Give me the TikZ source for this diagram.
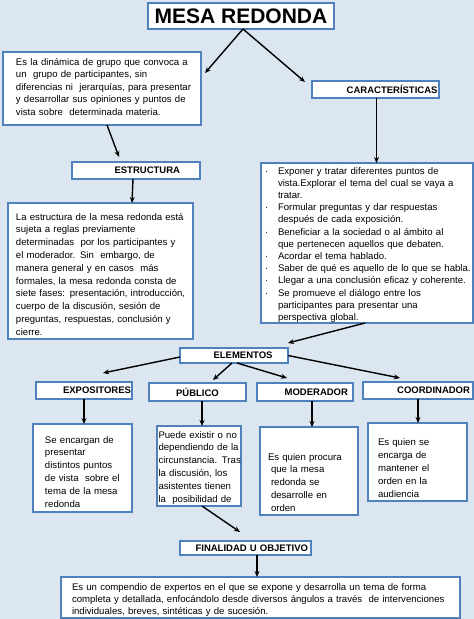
\documentclass[tikz,border=0pt]{standalone}
\usepackage{fontspec}
\setmainfont{Liberation Sans}
\usetikzlibrary{arrows.meta}
\definecolor{bgc}{HTML}{DCE6F1}
\definecolor{bc}{HTML}{4F81BD}
\newcommand\cbul{\makebox[13pt][l]{·}}
\newcommand\cind{\hspace*{13pt}}
\newcommand\tst[1]{\leftskip=#1\rightskip=0pt plus 1fil minus 40pt\hyphenpenalty=10000\exhyphenpenalty=10000\relax}
\begin{document}
\begin{tikzpicture}[x=1pt,y=-1pt,
 box/.style={draw=bc, fill=white, line width=1.3pt, inner ysep=0pt, outer sep=0pt},
 hdr/.style={box, font=\fontsize{9.5}{11}\selectfont\bfseries},
 txt/.style={box, inner xsep=0pt, align=left},
 arr/.style={line width=1.4pt, -{Stealth[length=6pt,width=5pt]}},
]
\useasboundingbox (0,0) rectangle (474,619);
\fill[bgc] (0,0) rectangle (474,619);

\node[box, font=\fontsize{21}{24}\selectfont\bfseries, minimum width=186pt, minimum height=26pt, inner xsep=0pt] (title) at (241,16) {MESA REDONDA};

\node[txt, font=\fontsize{9.6}{12.6}\selectfont, text width=198pt, text height=13pt, text depth=60pt] (def) at (102,88.5)
 {\tst{13pt}Es la dinámica de grupo que convoca a\\ un~ grupo de participantes, sin\\ diferencias ni~ jerarquías, para presentar\\ y desarrollar sus opiniones y puntos de\\ vista sobre~ determinada materia.\par};

\node[hdr, inner xsep=1.5pt, text width=124pt, align=right, minimum height=17pt] (car) at (375.5,89.5) {CARACTERÍSTICAS};

\node[hdr, inner xsep=20pt, text width=88pt, align=right, minimum height=17pt] (est) at (136,170.5) {ESTRUCTURA};

\node[txt, font=\fontsize{9.6}{12.8}\selectfont, text width=185pt, text height=17pt, text depth=119pt] (estbox) at (100.5,271)
 {\tst{8pt}La estructura de la mesa redonda está\\ sujeta a reglas previamente\\ determinadas~ por los participantes y\\ el moderador. Sin~ embargo, de\\ manera general y en casos~ más\\ formales, la mesa redonda consta de\\ siete fases: presentación, introducción,\\ cuerpo de la discusión, sesión de\\ preguntas, respuestas, conclusión y\\ cierre.\par};

\node[txt, font=\fontsize{9.6}{12.2}\selectfont, text width=212pt, text height=11pt, text depth=149pt] (carbox) at (367,243)
 {\tst{4pt}\cbul Exponer y tratar diferentes puntos de\\ \cind vista.Explorar el tema del cual se vaya a\\ \cind tratar.\\
  \cbul Formular preguntas y dar respuestas\\ \cind después de cada exposición.\\
  \cbul Beneficiar a la sociedad o al ámbito al\\ \cind que pertenecen aquellos que debaten.\\
  \cbul Acordar el tema hablado.\\
  \cbul Saber de qué es aquello de lo que se habla.\\
  \cbul Llegar a una conclusión eficaz y coherente.\\
  \cbul Se promueve el diálogo entre los\\ \cind participantes para presentar una\\ \cind perspectiva global.\par};

\node[hdr, inner xsep=15.5pt, text width=77pt, align=right, minimum height=15pt] (elem) at (234,355.5) {ELEMENTOS};

\node[hdr, inner xsep=1pt, text width=94pt, align=right, minimum height=17pt] (expo) at (84,390.5) {EXPOSITORES};
\node[hdr, inner xsep=1pt, text width=95pt, align=center, minimum height=18pt] (pub) at (197.5,392) {PÚBLICO};
\node[hdr, inner xsep=5pt, text width=86pt, align=right, minimum height=18pt] (mod) at (305,392) {MODERADOR};
\node[hdr, inner xsep=3pt, text width=104pt, align=right, minimum height=17pt] (coord) at (418,390.5) {COORDINADOR};

\node[txt, font=\fontsize{9.6}{12.8}\selectfont, text width=99pt, text height=19pt, text depth=69pt] (expobox) at (82.5,468)
 {\tst{12pt}Se encargan de\\ presentar\\ distintos puntos\\ de vista~ sobre el\\ tema de la mesa\\ redonda\par};
\node[txt, font=\fontsize{9.6}{12.8}\selectfont, text width=84pt, text height=12pt, text depth=68pt] (pubbox) at (199,466)
 {\tst{1.5pt}Puede existir o no\\ dependiendo de la\\ circunstancia. Tras\\ la discusión, los\\ asistentes tienen\\ la~ posibilidad de\par};
\node[txt, font=\fontsize{9.6}{12.75}\selectfont, text width=98pt, text height=33pt, text depth=55pt] (modbox) at (309,471)
 {\tst{8pt}Es quien procura\\ \hspace*{3pt}que la mesa\\ \hspace*{3pt}redonda se\\ \hspace*{3pt}desarrolle en\\ \hspace*{3pt}orden\par};
\node[txt, font=\fontsize{9.6}{13}\selectfont, text width=99pt, text height=22pt, text depth=56pt] (coordbox) at (417.5,462)
 {\tst{10pt}Es quien se\\ encarga de\\ mantener el\\ orden en la\\ audiencia\par};

\node[hdr, inner xsep=3pt, text width=125pt, align=right, minimum height=14pt] (fin) at (245.5,548) {FINALIDAD U OBJETIVO};
\node[txt, font=\fontsize{9.6}{12}\selectfont, text width=399pt, text height=13pt, text depth=28pt] (finbox) at (260.5,597.5)
 {\tst{11pt}Es un compendio de expertos en el que se expone y desarrolla un tema de forma\\ completa y detallada, enfocándolo desde diversos ángulos a través~ de intervenciones\\ individuales, breves, sintéticas y de sucesión.\par};

% connectors
\draw[arr] ([xshift=2pt]title.south) -- ([xshift=4pt,yshift=-21pt]def.north east);
\draw[arr] ([xshift=2pt]title.south) -- ([xshift=-7pt,yshift=7.5pt]car.west);
\coordinate (c1) at ([xshift=1pt]car.south);
\draw[arr] (c1) -- (c1 |- carbox.north);
\draw[arr] ([xshift=5pt]def.south) -- ([xshift=-17pt,yshift=5pt]est.north);
\draw[arr] ([xshift=-3pt]est.south) -- ([xshift=31.5pt]estbox.north);
\draw[arr] ([xshift=-2pt]carbox.south) -- ([yshift=5pt]elem.north east);
\draw[arr] ([yshift=-1.5pt]elem.west) -- ([xshift=19pt,yshift=9pt]expo.north);
\draw[arr] ([xshift=-2pt]elem.south) -- ([xshift=15.5pt,yshift=3pt]pub.north);
\draw[arr] ([xshift=3pt]elem.south) -- ([xshift=-18pt,yshift=5pt]mod.north);
\draw[arr] (elem.east) -- ([xshift=-18pt,yshift=4pt]coord.north);
\draw[arr] (expo.south) -- (expo.south |- expobox.north);
\coordinate (p1) at ([xshift=4.5pt]pub.south);
\draw[arr] (p1) -- (p1 |- pubbox.north);
\coordinate (m1) at ([xshift=7pt]mod.south);
\draw[arr] (m1) -- (m1 |- modbox.north);
\draw[arr] (coord.south) -- (coord.south |- coordbox.north);
\draw[arr] ([xshift=3pt]pubbox.south) -- ([xshift=-5.5pt,yshift=9pt]fin.north);
\coordinate (f1) at ([xshift=11.5pt]fin.south);
\draw[arr] (f1) -- (f1 |- finbox.north);
\end{tikzpicture}
\end{document}
